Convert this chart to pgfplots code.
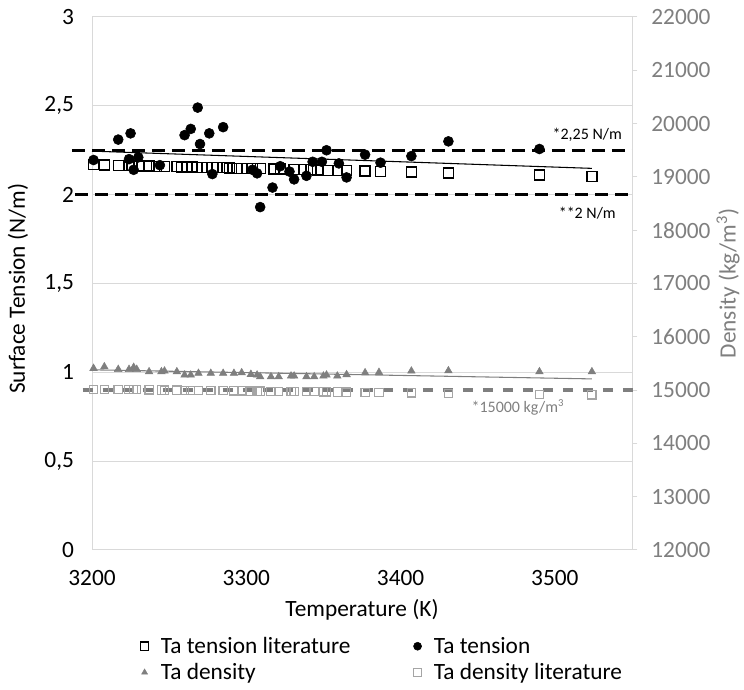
\documentclass[border=0pt]{standalone}
\usepackage{pgfplots}
\pgfplotsset{compat=1.18}
\usepackage{fontspec}
\setmainfont{Carlito}
\definecolor{gridgray}{HTML}{D9D9D9}
\definecolor{dgray}{HTML}{7F7F7F}
\definecolor{lgray}{HTML}{A5A5A5}
\pgfplotsset{
  every axis/.append style={font=\fontsize{17.5}{21}\selectfont},
  /pgf/number format/assume math mode=true,
  common/.style={scale only axis, width=405pt, height=399.75pt,
    xmin=3200, xmax=3550, clip=false},
}

\begin{document}
\begin{tikzpicture}
\begin{axis}[
  common, name=ax1,
  ymin=0, ymax=3,
  xtick={3200,3300,3400,3500},
  ytick={0,0.5,1,1.5,2,2.5,3},
  axis x line*=bottom, axis y line*=left,
  axis line style={gridgray, line width=0.75pt},
  ymajorgrids, grid style={gridgray, line width=0.75pt},
  major tick length=0pt,
  xticklabel style={/pgf/number format/1000 sep={}, yshift=-12pt},
  yticklabel style={/pgf/number format/.cd, use comma, fixed, /tikz/.cd, xshift=-10pt},
  xlabel={Temperature (K)},
  xlabel style={at={(axis description cs:0.5,-0.112)}, anchor=center},
  ylabel={Surface Tension (N/m)},
  ylabel style={at={(axis description cs:-0.137,0.49)}, anchor=center, rotate=0},
]
% reference lines
\addplot[black, line width=2.4pt, dash pattern=on 9.5pt off 5.5pt] coordinates {(3187,2.25) (3550,2.25)};
\addplot[black, line width=2.4pt, dash pattern=on 9.5pt off 5.5pt] coordinates {(3189,2) (3550,2)};
% Ta tension literature
\addplot[only marks, mark=square, mark size=3.75pt, black, mark options={line width=1pt}] coordinates {
(3201,2.168) (3208,2.166) (3217,2.165) (3224,2.163) (3226,2.163) (3230,2.162)
(3237,2.161) (3242,2.160) (3247,2.159) (3255,2.157) (3258,2.156) (3262,2.156)
(3265,2.155) (3268,2.154) (3271,2.154) (3278,2.152) (3281,2.152) (3285,2.151)
(3289,2.150) (3294,2.149) (3297,2.149) (3301,2.148) (3304,2.147) (3309,2.146)
(3318,2.144) (3322,2.144) (3331,2.142) (3337,2.141) (3342,2.140) (3346,2.139)
(3353,2.137) (3359,2.136) (3365,2.135) (3377,2.133) (3387,2.131) (3407,2.127)
(3431,2.122) (3490,2.110) (3524,2.103)};
% Ta tension
\addplot[only marks, mark=*, mark size=3.75pt, black] coordinates {
(3201,2.195) (3217,2.31) (3225,2.345) (3224,2.20) (3230,2.21) (3227,2.14)
(3244,2.166) (3260,2.335) (3264,2.37) (3268.5,2.49) (3270,2.285) (3276,2.345)
(3285,2.38) (3278,2.116) (3304,2.14) (3307,2.12) (3309,1.93) (3317,2.04)
(3322,2.16) (3328,2.13) (3331,2.086) (3339,2.106) (3343,2.185) (3349,2.185)
(3352,2.25) (3360,2.176) (3365,2.097) (3377,2.225) (3387,2.18) (3407,2.217)
(3431,2.30) (3490,2.257)};
% linear trend of Ta tension
\addplot[black, line width=0.8pt] coordinates {(3200,2.245) (3524,2.148)};
\node[font=\fontsize{12}{14}\selectfont] at (axis cs:3521,2.335) {*2,25 N/m};
\node[font=\fontsize{12}{14}\selectfont] at (axis cs:3521,1.897) {**2 N/m};
\end{axis}

\begin{axis}[
  common,
  ymin=12000, ymax=22000,
  ytick={12000,13000,...,22000},
  scaled y ticks=false,
  axis x line=none, axis y line*=right,
  axis line style={gridgray, line width=0.75pt},
  ytick style={gridgray, line width=0.75pt},
  tick align=outside, major tick length=4pt,
  yticklabel style={dgray, /pgf/number format/1000 sep={}, xshift=7pt},
  ylabel={Density (kg/m\textsuperscript{3})},
  ylabel style={dgray, at={(axis description cs:1.178,0.5)}, anchor=center, rotate=0},
  legend columns=2,
  legend cell align=left,
  legend style={at={(axis description cs:0.089,-0.158)}, anchor=north west,
    draw=none, fill=none, inner sep=0pt, row sep=2pt,
    /tikz/every odd column/.style={column sep=7pt},
    /tikz/column 2/.style={column sep=45pt}},
]
\addlegendimage{only marks, mark=square, mark size=3.2pt, black, mark options={line width=0.8pt}}
\addlegendentry{Ta tension literature}
\addlegendimage{only marks, mark=*, mark size=3pt, black}
\addlegendentry{Ta tension}
\addlegendimage{only marks, mark=triangle*, mark size=2.6pt, dgray}
\addlegendentry{Ta density}
\addlegendimage{only marks, mark=square, mark size=3.2pt, lgray, mark options={line width=0.8pt}}
\addlegendentry{Ta density literature}
% reference line
\addplot[dgray, line width=2.4pt, dash pattern=on 8pt off 7pt, forget plot] coordinates {(3194,15000) (3553,15000)};
% Ta density literature
\addplot[only marks, mark=square, mark size=3.1pt, lgray, mark options={line width=0.9pt}, forget plot] coordinates {
(3201,15016) (3208,15014) (3217,15011) (3224,15008) (3227,15008) (3229,15007)
(3237,15004) (3245,15002) (3247,15001) (3255,14998) (3260,14997) (3264,14995)
(3269,14994) (3277,14991) (3285,14988) (3292,14986) (3297,14984) (3303,14982)
(3307,14981) (3309,14980) (3316,14978) (3321,14976) (3329,14974) (3331,14973)
(3339,14970) (3344,14969) (3350,14967) (3352,14966) (3359,14964) (3365,14962)
(3377,14958) (3386,14955) (3407,14948) (3431,14940) (3490,14921) (3524,14909)};
% Ta density
\addplot[only marks, mark=triangle*, mark size=3.25pt, dgray, forget plot] coordinates {
(3201,15408) (3208,15438) (3217,15389) (3224,15389) (3227,15427) (3229,15389)
(3237,15345) (3245,15345) (3247,15358) (3255,15345) (3260,15283) (3264,15283)
(3269,15315) (3277,15315) (3285,15315) (3292,15315) (3297,15326) (3303,15296)
(3307,15283) (3309,15251) (3316,15251) (3321,15251) (3329,15264) (3331,15264)
(3339,15251) (3344,15251) (3350,15264) (3352,15283) (3359,15264) (3365,15290)
(3377,15326) (3386,15333) (3407,15358) (3431,15363) (3490,15345) (3524,15345)};
% linear trend of Ta density
\addplot[dgray, line width=0.8pt, forget plot] coordinates {(3201,15380) (3524,15210)};
\node[dgray, font=\fontsize{12}{14}\selectfont] at (axis cs:3476,14680) {*15000 kg/m\textsuperscript{3}};
\end{axis}
\pgfresetboundingbox
\path[use as bounding box] ([shift={(-69pt,-105pt)}]ax1.south west) rectangle ([shift={(84pt,12.75pt)}]ax1.north east);
\end{tikzpicture}
\end{document}
